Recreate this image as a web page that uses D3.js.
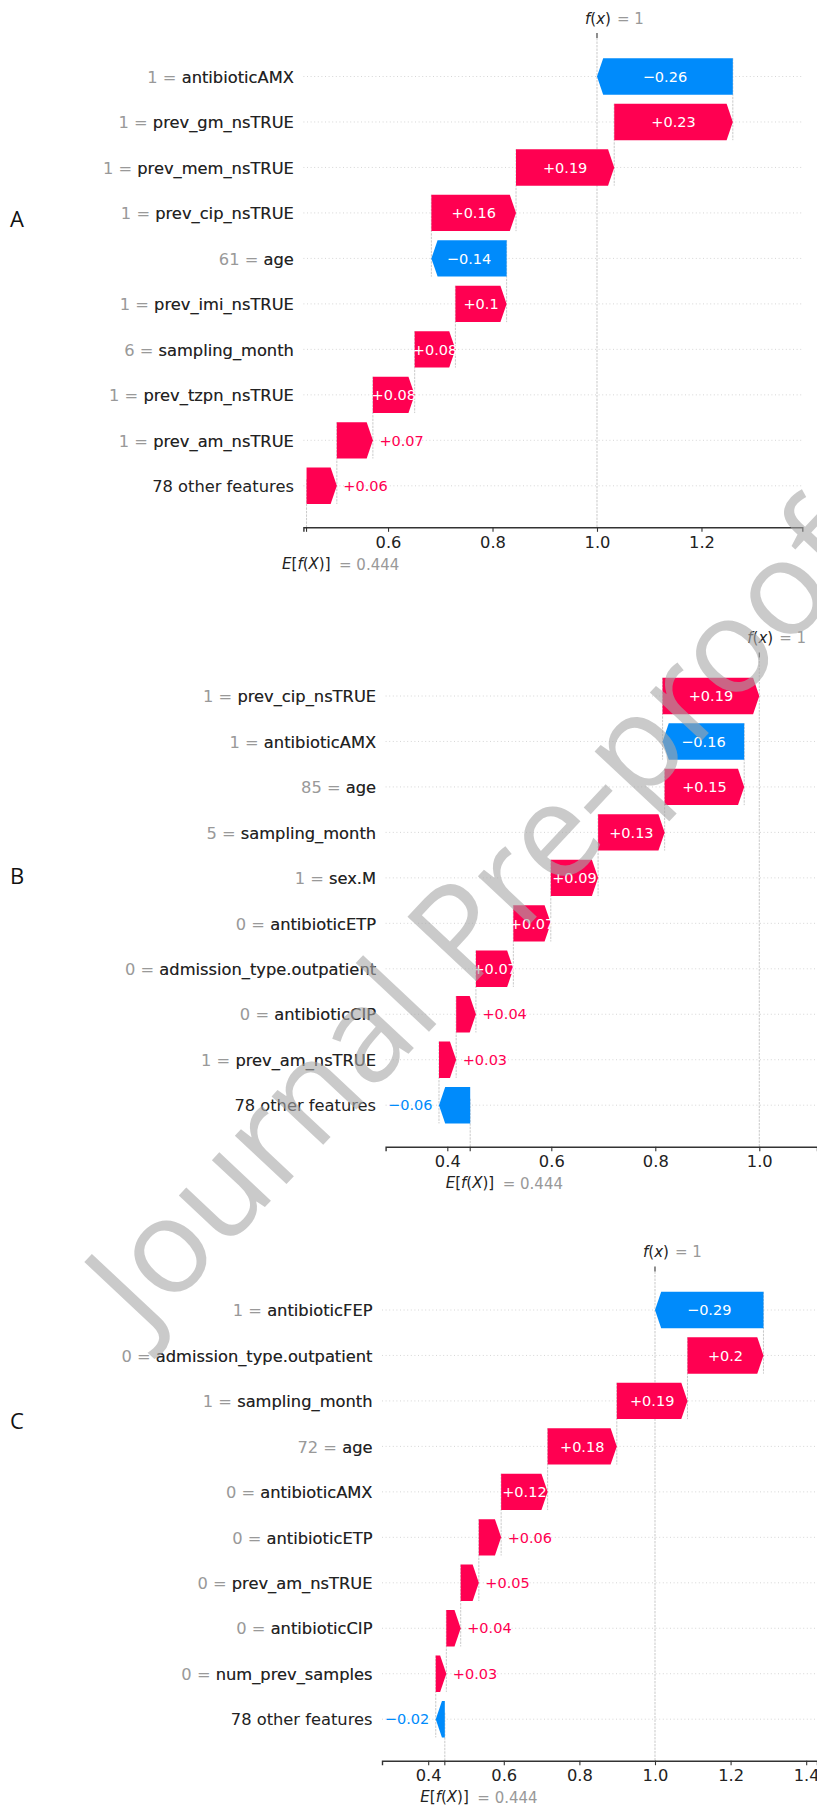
<!DOCTYPE html>
<html><head><meta charset="utf-8">
<script src="https://cdn.jsdelivr.net/npm/d3@7"></script>
<style>body{margin:0;background:#fff} svg{display:block}</style>
</head><body>
<svg id="chart" width="817" height="1807"></svg>
<script>
// ---------------- data ----------------
const baseValue = 0.444;   // E[f(X)]
const fxValue = 1;         // f(x)

const featuresA = ["antibioticAMX","prev_gm_nsTRUE","prev_mem_nsTRUE","prev_cip_nsTRUE","age","prev_imi_nsTRUE","sampling_month","prev_tzpn_nsTRUE","prev_am_nsTRUE","78 other features"];
const featureValuesA = ["1","1","1","1","61","1","6","1","1",null];
const shapA = [-0.26, 0.227, 0.188, 0.162, -0.144, 0.098, 0.078, 0.08, 0.069, 0.058];
const ticksA = [0.6, 0.8, 1.0, 1.2];
const xlimA = [0.438, 1.393];

const featuresB = ["prev_cip_nsTRUE","antibioticAMX","age","sampling_month","sex.M","antibioticETP","admission_type.outpatient","antibioticCIP","prev_am_nsTRUE","78 other features"];
const featureValuesB = ["1","1","85","5","1","0","0","0","1",null];
const shapB = [0.186, -0.157, 0.153, 0.128, 0.091, 0.072, 0.072, 0.038, 0.033, -0.06];
const ticksB = [0.4, 0.6, 0.8, 1.0];
const xlimB = [0.2813, 1.111];

const featuresC = ["antibioticFEP","admission_type.outpatient","sampling_month","age","antibioticAMX","antibioticETP","prev_am_nsTRUE","antibioticCIP","num_prev_samples","78 other features"];
const featureValuesC = ["1","0","1","72","0","0","0","0","0",null];
const shapC = [-0.287, 0.201, 0.187, 0.183, 0.123, 0.059, 0.048, 0.038, 0.028, -0.024];
const ticksC = [0.4, 0.6, 0.8, 1.0, 1.2, 1.4];
const xlimC = [0.2778, 1.4286];

const panelLetters = ["A", "B", "C"];
const watermarkText = "Journal Pre-proof";

// ---------------- layout / style ----------------
const RED = "#ff0051", BLUE = "#008bfb";
const FONT = "'DejaVu Sans', sans-serif";
const layouts = [
  {top: 38,     bottom: 527.3,  left: 303.4, right: 802.3, letterY: 227},
  {top: 657.5,  bottom: 1146.7, left: 385.6, right: 817,   letterY: 883.5},
  {top: 1271.5, bottom: 1760.7, left: 382,   right: 817,   letterY: 1428.5}
];
const panels = [
  {features: featuresA, fvals: featureValuesA, shap: shapA, ticks: ticksA, xlim: xlimA},
  {features: featuresB, fvals: featureValuesB, shap: shapB, ticks: ticksB, xlim: xlimB},
  {features: featuresC, fvals: featureValuesC, shap: shapC, ticks: ticksC, xlim: xlimC}
];

function fmtVal(v, spec) {
  let s = d3.format(spec)(v);
  if (s.indexOf(".") >= 0) s = s.replace(/0+$/, "").replace(/\.$/, "");
  return s;
}

const svg = d3.select("#chart");
svg.append("rect").attr("width", 817).attr("height", 1807).attr("fill", "#fff");

function mathText(g, xPos, yPos, segs, color, size) {
  const t = g.append("text").attr("x", xPos).attr("y", yPos)
    .attr("font-family", FONT).attr("font-size", size).attr("fill", color);
  segs.forEach(s => t.append("tspan").attr("font-style", s[1] ? "italic" : "normal").text(s[0]));
  return t;
}

panels.forEach((p, pi) => {
  const L = layouts[pi];
  const g = svg.append("g");
  const x = d3.scaleLinear().domain(p.xlim).range([L.left, L.right]);
  const y = d3.scalePoint().domain(p.features).range([L.top + 38.5, L.bottom - 41.5]);
  const step = y.step();
  const barH = 0.8 * step;
  const headLen = 6.2;
  const n = p.features.length;

  // cumulative waterfall positions (from the bottom row up)
  const rows = new Array(n);
  let cum = baseValue;
  for (let i = n - 1; i >= 0; i--) {
    const v = p.shap[i];
    rows[i] = {feature: p.features[i], fval: p.fvals[i], v: v, start: cum, end: cum + v};
    cum += v;
  }
  const fx = cum;

  // row grid lines
  g.selectAll(".grid").data(rows).enter().append("line")
    .attr("x1", L.left).attr("x2", L.right)
    .attr("y1", d => y(d.feature)).attr("y2", d => y(d.feature))
    .attr("stroke", "#cccccc").attr("stroke-width", 0.8).attr("stroke-dasharray", "1 2.6");

  // connector dashed lines
  for (let i = 0; i < n - 1; i++) {
    const xx = x(rows[i].start);
    g.append("line").attr("x1", xx).attr("x2", xx)
      .attr("y1", y(rows[i].feature) - 0.4 * step).attr("y2", y(rows[i + 1].feature) + 0.4 * step)
      .attr("stroke", "#bbbbbb").attr("stroke-width", 0.8).attr("stroke-dasharray", "2.4 1.1");
  }
  // base value line
  g.append("line").attr("x1", x(baseValue)).attr("x2", x(baseValue))
    .attr("y1", L.bottom).attr("y2", L.bottom - (L.bottom - L.top) / n)
    .attr("stroke", "#bbbbbb").attr("stroke-width", 0.8).attr("stroke-dasharray", "2.4 1.1");
  // f(x) line
  g.append("line").attr("x1", x(fx)).attr("x2", x(fx))
    .attr("y1", L.top).attr("y2", L.bottom)
    .attr("stroke", "#bbbbbb").attr("stroke-width", 0.8).attr("stroke-dasharray", "2.4 1.1");

  // bars (arrows)
  function arrowPath(r) {
    const x0 = x(r.start), x1 = x(r.end), yc = y(r.feature), h = barH / 2;
    const dir = x1 >= x0 ? 1 : -1;
    const len = Math.abs(x1 - x0);
    const hl = Math.min(len, headLen);
    const xb = x1 - dir * hl;
    return `M${x0},${yc - h}L${xb},${yc - h}L${x1},${yc}L${xb},${yc + h}L${x0},${yc + h}Z`;
  }
  g.selectAll(".bar").data(rows).enter().append("path")
    .attr("d", arrowPath).attr("fill", d => d.v >= 0 ? RED : BLUE);

  // bar value labels
  rows.forEach(r => {
    const x0 = x(r.start), x1 = x(r.end), len = Math.abs(x1 - x0);
    const txt = fmtVal(r.v, "+.2f");
    const t = g.append("text").attr("y", y(r.feature)).attr("dy", "0.36em")
      .attr("font-family", FONT).attr("font-size", 14.5).text(txt);
    if (len > 37) {
      t.attr("x", (x0 + x1) / 2).attr("text-anchor", "middle").attr("fill", "#fff");
    } else if (r.v >= 0) {
      t.attr("x", x1 + 6.5).attr("text-anchor", "start").attr("fill", RED);
    } else {
      t.attr("x", x1 - 6.5).attr("text-anchor", "end").attr("fill", BLUE);
    }
  });

  // feature labels (gray "value = name" then dark name on top)
  const labX = L.left - 9.5;
  rows.forEach(r => {
    const yc = y(r.feature);
    if (r.fval !== null) {
      g.append("text").attr("x", labX).attr("y", yc).attr("dy", "0.38em")
        .attr("text-anchor", "end").attr("font-family", FONT).attr("font-size", 16.3)
        .attr("fill", "#999999").text(r.fval + " = " + r.feature);
    }
    g.append("text").attr("x", labX).attr("y", yc).attr("dy", "0.38em")
      .attr("text-anchor", "end").attr("font-family", FONT).attr("font-size", 16.3)
      .attr("fill", "#222").text(r.feature);
  });

  // bottom axis
  const axis = d3.axisBottom(x).tickValues(p.ticks).tickFormat(d3.format(".1f")).tickSizeOuter(0).tickSize(4.5).tickPadding(4);
  const ax = g.append("g").attr("transform", `translate(0,${L.bottom})`).call(axis);
  ax.select(".domain").attr("stroke", "#333").attr("stroke-width", 1.4);
  ax.selectAll(".tick line").attr("stroke", "#333").attr("stroke-width", 1.1);
  ax.selectAll(".tick text").attr("font-family", FONT).attr("font-size", 16.3).attr("fill", "#222")
    .attr("y", 20.5).attr("dy", 0);
  // base tick
  g.append("line").attr("x1", x(baseValue)).attr("x2", x(baseValue))
    .attr("y1", L.bottom).attr("y2", L.bottom + 4.5).attr("stroke", "#333").attr("stroke-width", 1.1);
  mathText(g, x(baseValue) - 24.5, L.bottom + 41.5,
    [["E", true], ["[", false], ["f", true], ["(", false], ["X", true], [")]", false]], "#222", 15);
  mathText(g, x(baseValue) + 32.5, L.bottom + 42.5,
    [["= " + fmtVal(baseValue, ".3f"), false]], "#999999", 15);

  // top f(x) tick + label
  g.append("line").attr("x1", x(fx)).attr("x2", x(fx))
    .attr("y1", L.top).attr("y2", L.top - 5).attr("stroke", "#333").attr("stroke-width", 1.1);
  mathText(g, x(fx) - 12, L.top - 14.5,
    [["f", true], ["(", false], ["x", true], [")", false]], "#222", 15);
  mathText(g, x(fx) + 20, L.top - 14.5,
    [["= " + fmtVal(fxValue, ".3f"), false]], "#999999", 15);

  // panel letter
  svg.append("text").attr("x", 10).attr("y", L.letterY)
    .attr("font-family", "'Open Sans', sans-serif").attr("font-size", 22).attr("fill", "#111")
    .text(panelLetters[pi]);
});

// watermark: fitted so that the "o" of "Jo" and the hyphen land where they sit in the reference
const wmFont = 100;
const wm = svg.append("text")
  .attr("x", 0).attr("y", 0)
  .attr("font-family", "'Open Sans', sans-serif").attr("font-size", wmFont)
  .attr("fill", "#a8a8a8").attr("opacity", 0.6)
  .text(watermarkText);
(function fitWatermark() {
  const node = wm.node();
  const e1 = node.getExtentOfChar(1), e2 = node.getExtentOfChar(11);
  const c1 = [e1.x + e1.width / 2, -0.26 * wmFont];
  const c2 = [e2.x + e2.width / 2, -0.26 * wmFont];
  const a1 = [171, 1257], a2 = [599, 800];
  const v = [c2[0] - c1[0], c2[1] - c1[1]], w = [a2[0] - a1[0], a2[1] - a1[1]];
  const s = Math.hypot(w[0], w[1]) / Math.hypot(v[0], v[1]);
  const ang = (Math.atan2(w[1], w[0]) - Math.atan2(v[1], v[0])) * 180 / Math.PI;
  wm.attr("transform", `translate(${a1[0]},${a1[1]}) rotate(${ang}) scale(${s}) translate(${-c1[0]},${-c1[1]})`);
})();
</script>
</body></html>
